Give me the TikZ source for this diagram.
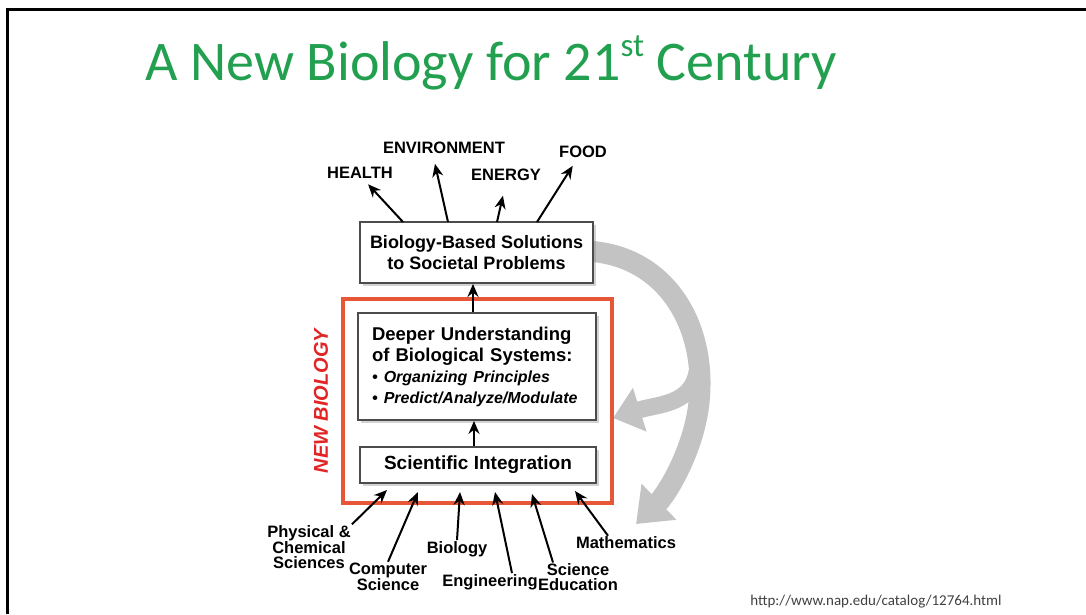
\documentclass[tikz,border=0pt]{standalone}
\usepackage{fontspec}
\setmainfont{Liberation Sans}
\newfontfamily\slidefont{Carlito}
\usetikzlibrary{arrows.meta,shadows,positioning}
\definecolor{titlegreen}{RGB}{34,160,80}
\definecolor{framered}{RGB}{232,86,56}
\definecolor{nbred}{RGB}{226,36,36}
\definecolor{loopgray}{RGB}{195,195,195}

\begin{document}
\begin{tikzpicture}[x=1pt,y=-1pt,
  box/.style={draw=black!70,line width=1.8pt,fill=white,inner sep=0pt,
    drop shadow={shadow xshift=3pt,shadow yshift=-3pt,opacity=0.35}},
  lbl/.style={font=\bfseries\fontsize{16.5}{14.5}\selectfont,align=center,inner sep=1pt},
  arr/.style={line width=2pt,-{Stealth[length=13pt,width=11pt]}},
  loop/.style={draw=loopgray,line width=21pt}]
\useasboundingbox (0,0) rectangle (1086,614);
\draw[line width=3pt] (7,614) -- (7,9) -- (1090,9);

\node[anchor=base,text=titlegreen,font=\slidefont\fontsize{56}{60}\selectfont] at (491,80) (title) {A New Biology for 21\raisebox{0.42em}{\fontsize{33}{33}\selectfont st} Century};

\draw[loop,-{Triangle[width=48pt,length=32pt]}] (585,251) .. controls (668,254) and (710,330) .. (698,410) .. controls (691,455) and (666,495) .. (636,524);
\draw[loop,line width=17pt,-{Triangle[width=44pt,length=28pt]}] (697,372) .. controls (691,405) and (658,404) .. (613,418);

\node[draw=framered,line width=4pt,minimum width=269,minimum height=204] at (477.5,401) (nb) {};
\node[rotate=90,text=nbred,font=\bfseries\itshape\fontsize{20}{20}\selectfont] at (321,401) (nblabel) {NEW BIOLOGY};

\node[box,minimum width=233,minimum height=61,align=center,font=\bfseries\fontsize{18}{21}\selectfont] at (476.5,252.5) (sol) {Biology-Based Solutions\\to Societal Problems};
\node[box,minimum width=238,minimum height=107,text width=210,align=left,font=\bfseries\fontsize{18.5}{21}\selectfont] at (477,366.5) (deep) {Deeper Understanding\\of Biological Systems:\\\itshape\fontsize{16}{21}\selectfont\textbullet\ Organizing Principles\\\textbullet\ Predict/Analyze/Modulate};
\node[box,minimum width=236,minimum height=36,font=\bfseries\fontsize{19}{21}\selectfont] at (478,465) (integ) {Scientific Integration};

\node[lbl] at (360,173) (health) {HEALTH};
\node[lbl] at (444,148) (env) {ENVIRONMENT};
\node[lbl] at (506,175) (energy) {ENERGY};
\node[lbl] at (583,152) (food) {FOOD};

\coordinate (s1) at (403,222);
\coordinate (s2) at (448,222);
\coordinate (s3) at (497,222);
\coordinate (s4) at (537,222);
\draw[arr,shorten >=6pt] (s1) -- ([xshift=4pt]health.south);
\draw[arr,shorten >=9pt] (s2) -- ([xshift=-11pt]env.south);
\draw[arr,shorten >=14pt] (s3) -- (energy.south);
\draw[arr,shorten >=8pt] (s4) -- ([xshift=-6pt]food.south);

\draw[arr] (deep.north -| 473,0) -- (sol.south -| 473,0);
\draw[arr] (integ.north -| 474,0) -- (deep.south -| 474,0);

\node[lbl] at (309,547) (phys) {Physical \&\\Chemical\\Sciences};
\node[lbl] at (388,577) (comp) {Computer\\Science};
\node[lbl] at (457,549) (bio) {Biology};
\node[lbl] at (490,582) (eng) {Engineering};
\node[lbl] at (578,577) (sced) {Science\\Education};
\node[lbl] at (626,543) (math) {Mathematics};

\coordinate (i1) at (387,490);
\coordinate (i2) at (418,492);
\coordinate (i3) at (460,492);
\coordinate (i4) at (495,492);
\coordinate (i5) at (532,494);
\coordinate (i6) at (575,491);
\draw[arr] (phys.north east) -- (i1);
\draw[arr] (comp.north) -- (i2);
\draw[arr] (bio.north) -- (i3);
\draw[arr] ([xshift=22pt]eng.north) -- (i4);
\draw[arr] ([xshift=-25pt]sced.north) -- (i5);
\draw[arr] ([xshift=-18pt]math.north) -- (i6);

\node[anchor=base,text=black!75,font=\slidefont\fontsize{15}{15}\selectfont] at (876,605) (url) {http://www.nap.edu/catalog/12764.html};
\end{tikzpicture}
\end{document}
